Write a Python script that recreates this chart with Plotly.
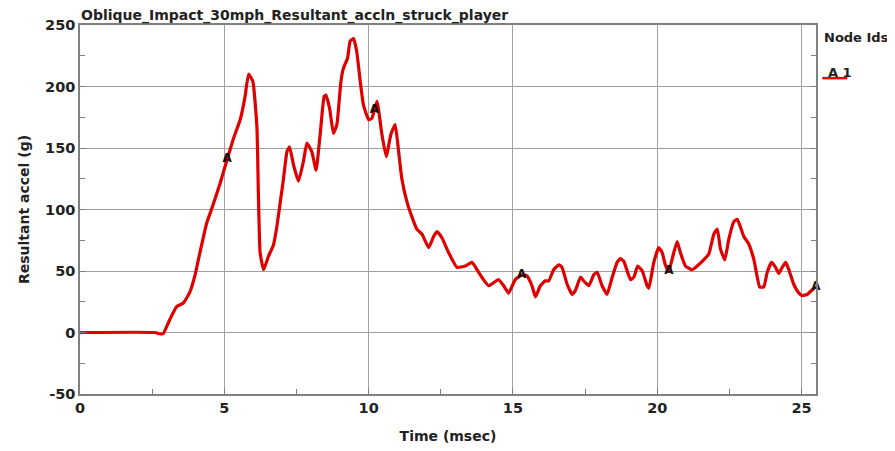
import numpy as np
import plotly.graph_objects as go

# Time (msec)
time_ms = [0, 2.6, 2.75, 2.88, 3.1, 3.35, 3.58, 3.81, 3.99, 4.1, 4.39, 4.57, 4.85, 5.09, 5.32, 5.55, 5.72,
           5.84, 5.99, 6.13, 6.18, 6.24, 6.36, 6.53, 6.7, 6.82, 6.95, 7.05, 7.17, 7.26, 7.4, 7.57, 7.74,
           7.86, 8.03, 8.18, 8.32, 8.46, 8.52, 8.65, 8.78, 8.9, 9.04, 9.13, 9.27, 9.36, 9.48, 9.59, 9.71,
           9.82, 10.0, 10.11, 10.29, 10.46, 10.61, 10.77, 10.92, 11.04, 11.15, 11.33, 11.5, 11.67, 11.85,
           12.08, 12.25, 12.37, 12.54, 12.77, 13.06, 13.35, 13.58, 13.81, 13.98, 14.16, 14.5, 14.68, 14.85,
           15.08, 15.32, 15.49, 15.66, 15.78, 15.95, 16.12, 16.24, 16.41, 16.59, 16.7, 16.88, 17.05, 17.16,
           17.34, 17.45, 17.63, 17.8, 17.92, 18.09, 18.26, 18.44, 18.61, 18.72, 18.84, 19.07, 19.19, 19.32,
           19.48, 19.65, 19.71, 19.88, 20.05, 20.17, 20.28, 20.4, 20.55, 20.69, 20.8, 20.98, 21.21, 21.38,
           21.61, 21.79, 21.96, 22.08, 22.19, 22.34, 22.48, 22.65, 22.77, 22.88, 23.0, 23.17, 23.35, 23.55,
           23.69, 23.81, 23.96, 24.1, 24.21, 24.33, 24.45, 24.56, 24.73, 24.91, 25.02, 25.2, 25.43, 25.5]

# Resultant acceleration (g)
accel_g = [0, 0, -1, -1, 10, 21, 24, 33, 47, 59, 89, 101, 121, 140, 158, 173, 192,
           210, 204, 167, 113, 65, 51, 62, 71, 86, 108, 125, 147, 151, 136, 123, 139,
           154, 147, 132, 161, 192, 193, 182, 162, 169, 204, 215, 223, 237, 239, 228, 204,
           185, 173, 174, 188, 161, 143, 161, 169, 147, 125, 106, 94, 84, 80,
           69, 78, 82, 77, 65, 53, 54, 57, 49, 43, 38, 43, 38, 32,
           43, 47, 46, 38, 29, 38, 42, 42, 51, 55, 53, 39, 31, 34,
           45, 42, 38, 47, 49, 38, 31, 45, 57, 60, 58, 43, 45, 54,
           50, 38, 36, 57, 69, 65, 55, 50, 63, 74, 65, 54, 51, 54,
           59, 64, 80, 84, 68, 59, 76, 90, 92, 86, 78, 72, 59, 37,
           37, 49, 57, 53, 48, 53, 57, 51, 39, 32, 30, 31, 36, 37]

# Curve label positions ("A" markers)
label_times = [5.1, 10.2, 15.3, 20.4, 25.5]
label_text = ["<b>A</b>"] * 5

x_ticks = [0, 5, 10, 15, 20, 25]
y_ticks = [-50, 0, 50, 100, 150, 200, 250]

title_text = "Oblique_Impact_30mph_Resultant_accln_struck_player"

label_y = np.interp(label_times, time_ms, accel_g)

# The page body has an 8px default margin; the figure is sized to fill the rest of the window.
W, H = 887, 443

fig = go.Figure()
fig.add_trace(go.Scatter(
    x=time_ms, y=accel_g, mode="lines", name="A 1",
    line=dict(color="#e00000", width=3.2, shape="spline", smoothing=0.4),
    showlegend=False, hoverinfo="skip", cliponaxis=False))
fig.add_trace(go.Scatter(
    x=label_times, y=label_y, mode="text", text=label_text,
    textfont=dict(family="DejaVu Sans", size=12, color="#111111"),
    textposition="middle center", showlegend=False, hoverinfo="skip", cliponaxis=False))

fig.update_layout(
    width=W, height=H,
    margin=dict(l=72, r=79, t=17, b=57, autoexpand=False),
    paper_bgcolor="white", plot_bgcolor="white",
    font=dict(family="DejaVu Sans", color="#222222"),
    showlegend=False,
    xaxis=dict(range=[0, 25.5], tickvals=x_ticks, ticktext=[f"<b>{v}</b>" for v in x_ticks],
               showgrid=True, gridcolor="#a0a0a0", gridwidth=1, automargin=False,
               showline=True, linecolor="#808080", linewidth=1.5, mirror=True,
               ticks="inside", ticklen=6, tickcolor="#808080",
               minor=dict(dtick=2.5, tick0=0, ticks="inside", ticklen=5, tickcolor="#808080", showgrid=False),
               tickfont=dict(size=14.5, color="#222222"),
               title=dict(text="<b>Time (msec)</b>", font=dict(size=14, color="#222222"), standoff=16),
               zeroline=False),
    yaxis=dict(range=[-50, 250], tickvals=y_ticks, ticktext=[f"<b>{v}</b>" for v in y_ticks],
               showgrid=True, gridcolor="#a0a0a0", gridwidth=1, automargin=False,
               showline=True, linecolor="#808080", linewidth=1.5, mirror="ticks",
               ticks="inside", ticklen=6, tickcolor="#808080",
               minor=dict(dtick=25, tick0=0, ticks="inside", ticklen=5, tickcolor="#808080", showgrid=False),
               tickfont=dict(size=14.5, color="#222222"),
               title=dict(text="<b>Resultant accel (g)</b>", font=dict(size=14, color="#222222"), standoff=12),
               zeroline=False),
    annotations=[
        dict(text=f"<b>{title_text}</b>", xref="paper", yref="paper", x=0, y=1,
             xanchor="left", yanchor="bottom", yshift=0, showarrow=False,
             borderpad=0, font=dict(size=14, color="#222222")),
        dict(text="<b>Node Ids</b>", xref="paper", yref="paper", x=1.0086, y=0.965,
             xanchor="left", yanchor="middle", showarrow=False, font=dict(size=13, color="#222222")),
        dict(text="<b>A 1</b>", xref="paper", yref="paper", x=1.013, y=0.87,
             xanchor="left", yanchor="middle", showarrow=False, font=dict(size=13, color="#222222")),
    ],
    shapes=[dict(type="line", xref="paper", yref="paper", x0=1.0086, x1=1.0425, y0=0.856, y1=0.856,
                 line=dict(color="#e00000", width=2.5))],
)

fig.write_html("out.html")
